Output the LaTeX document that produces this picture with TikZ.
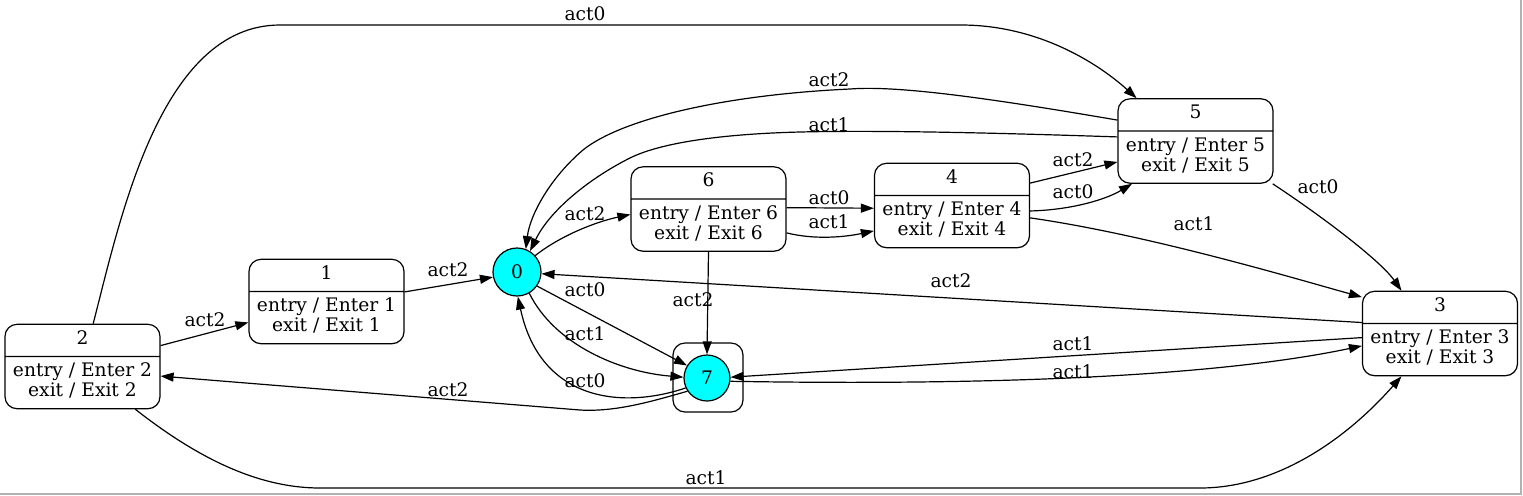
\documentclass[tikz,border=0pt]{standalone}
\usepackage{fontspec}
\setmainfont{DejaVu Serif}
\usetikzlibrary{arrows.meta,shapes.multipart}

\definecolor{aqua}{RGB}{0,255,255}
\newcommand{\stbody}[1]{\begin{tabular}{@{}c@{}}entry / Enter #1\\exit / Exit #1\end{tabular}}

\begin{document}
\begin{tikzpicture}[x=0.5pt, y=-0.5pt, line width=0.6pt,
    font=\fontsize{9.33}{10}\selectfont,
    >={Triangle[length=6.5pt,width=4.5pt]},
    statebox/.style={draw, rectangle split, rectangle split parts=2,
      rounded corners=6pt, minimum width=77.5pt, inner xsep=3pt, inner ysep=2.75pt},
    pseudo/.style={draw, circle, fill=aqua, minimum size=24pt, inner sep=0pt},
    lbl/.style={inner sep=0pt}]
    \useasboundingbox (0,0) rectangle (1523,495);
    \draw[gray!60] (0,494) -- (1521,494) -- (1521,0);
    % states of the machine
    \node[statebox] (s2) at (82.5,366.5) {\strut 2\nodepart{two}\stbody{2}};
    \node[statebox] (s1) at (326.5,301.5) {\strut 1\nodepart{two}\stbody{1}};
    \node[pseudo] (s0) at (517,272) {0};
    \node[statebox] (s6) at (708.5,209) {\strut 6\nodepart{two}\stbody{6}};
    \node[draw, rounded corners=6pt, minimum width=35pt, minimum height=34.5pt] (f7) at (708,377.5) {};
    \node[pseudo, minimum size=23pt] (s7) at (707,378) {7};
    \node[statebox] (s4) at (952,205.5) {\strut 4\nodepart{two}\stbody{4}};
    \node[statebox] (s5) at (1195.5,141) {\strut 5\nodepart{two}\stbody{5}};
    \node[statebox] (s3) at (1440,333.5) {\strut 3\nodepart{two}\stbody{3}};
    % transitions out of 2
    \draw[->] (s2.76) .. controls (120,220) and (160,25) .. (280,25) -- (961,25) .. controls (1040,25) and (1100,65) .. (s5.144);
    \draw[->] (s2.15) -- (s1.195);
    \draw[->] (s2.321) .. controls (200,460) and (260,488) .. (320,488) -- (1200,488) .. controls (1280,488) and (1350,435) .. (s3.228);
    \draw[->] (s1.7) -- (s0.192);
    % transitions out of 0
    \draw[->] (s0.42) .. controls (560,236) and (595,222) .. (s6.184);
    \draw[->] (s0.325) -- (s7.148);
    \draw[->] (s0.300) .. controls (555,345) and (620,372) .. (s7.178);
    % transitions out of 7
    \draw[->] (s7.205) .. controls (620,410) and (540,400) .. (s0.272);
    \draw[->] (s7.214) .. controls (650,402) and (615,412) .. (580,410) -- (s2.353);
    \draw[->] (s7.352) .. controls (950,385) and (1200,380) .. (s3.189);
    % transitions out of 6
    \draw[->] (s6.south) -- (s7.north);
    \draw[->] (s6.1) -- (s4.182);
    \draw[->] (s6.343) .. controls (815,240) and (845,237) .. (s4.198);
    % transitions out of 4
    \draw[->] (s4.16) -- (s5.195);
    \draw[->] (s4.356) .. controls (1070,210) and (1105,200) .. (s5.214);
    \draw[->] (s4.351) .. controls (1150,235) and (1300,280) .. (s3.155);
    % transitions out of 5
    \draw[->] (s5.331) .. controls (1320,215) and (1380,260) .. (s3.132);
    \draw[->] (s5.165) .. controls (1000,100) and (900,85) .. (850,89) .. controls (720,95) and (620,120) .. (583,150) .. controls (550,178) and (530,215) .. (s0.69);
    \draw[->] (s5.177) .. controls (1000,133) and (880,130) .. (800,132) .. controls (720,134) and (660,143) .. (630,158) .. controls (590,178) and (550,210) .. (s0.58);
    % transitions out of 3
    \draw[->] (s3.172) -- (s0.356);
    \draw[->] (s3.183) -- (s7.2);
    % labels
    \node[lbl] (l1) at (585,14) {act0};
    \node[lbl] (l2) at (205,320) {act2};
    \node[lbl] (l3) at (706,478) {act1};
    \node[lbl] (l4) at (448,270) {act2};
    \node[lbl] (l5) at (585,214) {act2};
    \node[lbl] (l6) at (585,290) {act0};
    \node[lbl] (l7) at (585,334) {act1};
    \node[lbl] (l8) at (585,381) {act0};
    \node[lbl] (l9) at (448,390) {act2};
    \node[lbl] (l10) at (1073,372) {act1};
    \node[lbl] (l11) at (693,300) {act2};
    \node[lbl] (l12) at (829,198) {act0};
    \node[lbl] (l13) at (829,222) {act1};
    \node[lbl] (l14) at (1073,160) {act2};
    \node[lbl] (l15) at (1073,192) {act0};
    \node[lbl] (l16) at (1194,224) {act1};
    \node[lbl] (l17) at (1318,187) {act0};
    \node[lbl] (l18) at (829,80) {act2};
    \node[lbl] (l19) at (829,125) {act1};
    \node[lbl] (l20) at (951,281) {act2};
    \node[lbl] (l21) at (1073,344) {act1};
  \end{tikzpicture}
\end{document}
